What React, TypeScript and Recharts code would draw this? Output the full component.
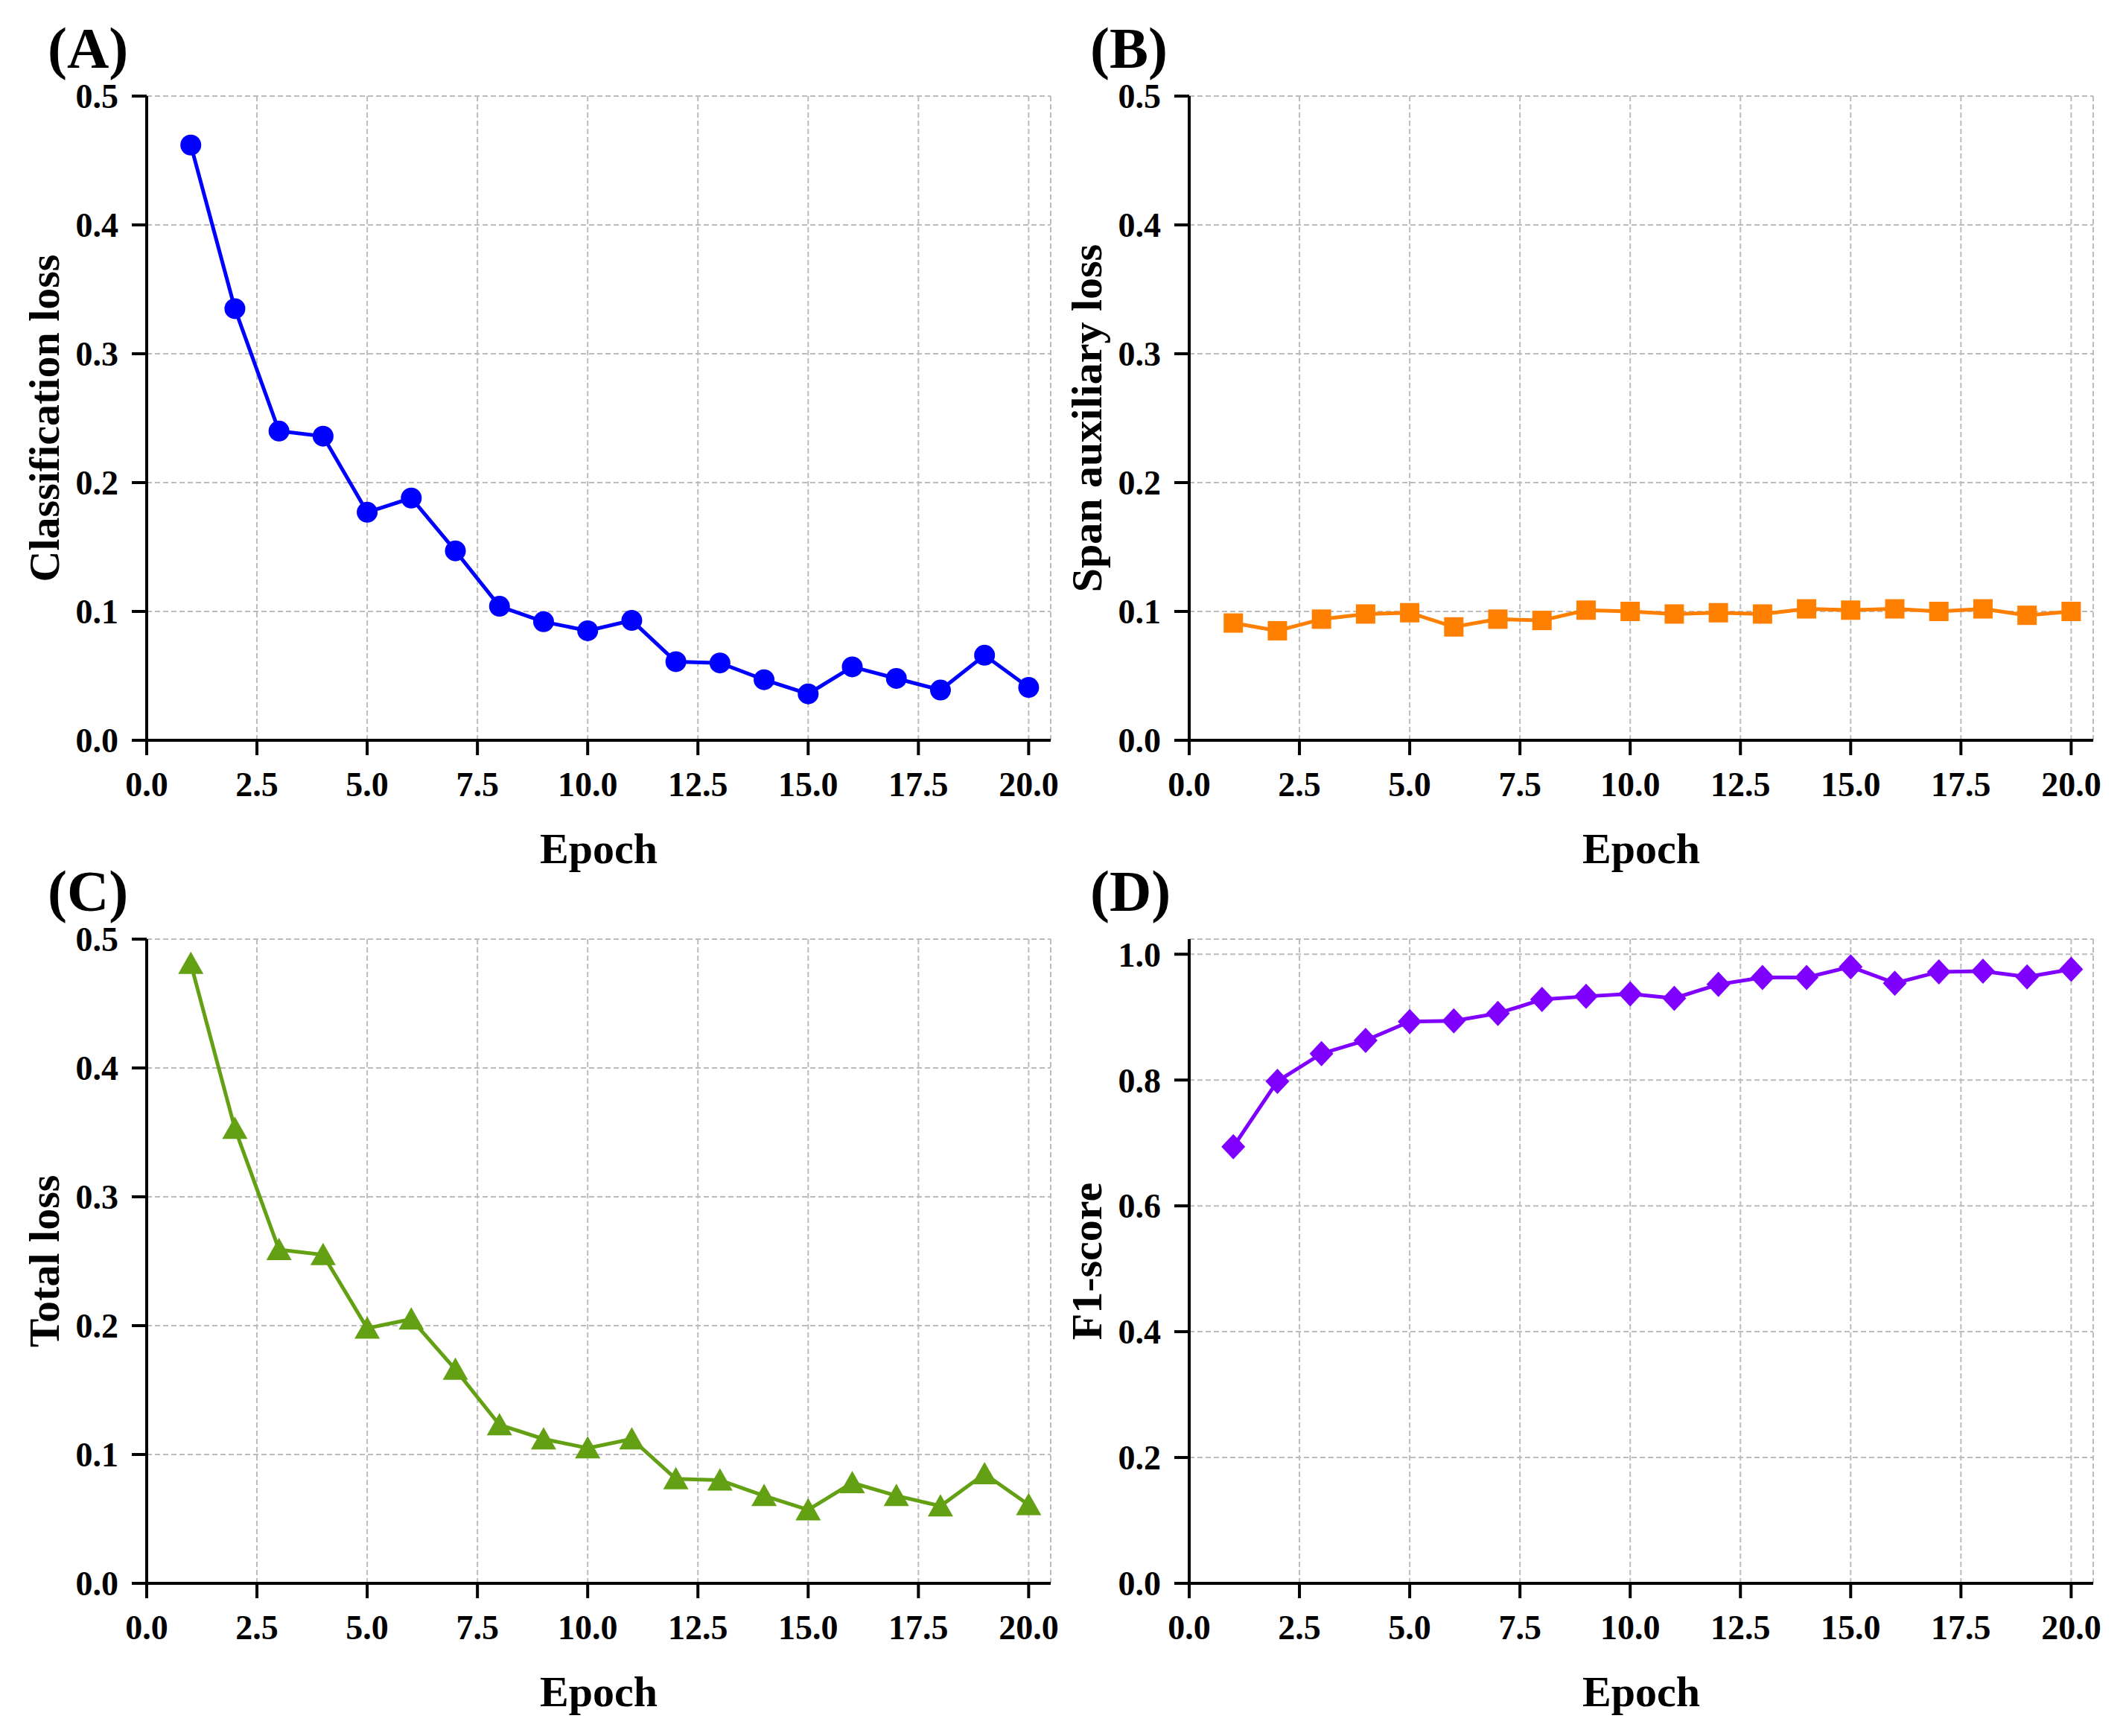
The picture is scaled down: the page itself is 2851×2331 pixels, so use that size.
import React from "react";
import { LineChart, Line, XAxis, YAxis, CartesianGrid } from "recharts";

// values (20 training epochs)
const epochs = [1, 2, 3, 4, 5, 6, 7, 8, 9, 10, 11, 12, 13, 14, 15, 16, 17, 18, 19, 20];
const classificationLoss = [
  0.462, 0.335, 0.24, 0.236, 0.177, 0.188, 0.147, 0.104, 0.092, 0.085,
  0.093, 0.061, 0.06, 0.047, 0.036, 0.057, 0.048, 0.039, 0.066, 0.041,
];
const spanAuxiliaryLoss = [
  0.091, 0.085, 0.094, 0.098, 0.099, 0.088, 0.094, 0.093, 0.101, 0.1,
  0.098, 0.099, 0.098, 0.102, 0.101, 0.102, 0.1, 0.102, 0.097, 0.1,
];
const totalLoss = [
  0.481, 0.353, 0.259, 0.255, 0.198, 0.205, 0.166, 0.123, 0.112, 0.105,
  0.112, 0.081, 0.08, 0.068, 0.057, 0.078, 0.068, 0.06, 0.085, 0.061,
];
const f1Score = [
  0.694, 0.798, 0.842, 0.863, 0.893, 0.894, 0.906, 0.928, 0.933, 0.937,
  0.93, 0.952, 0.963, 0.963, 0.98, 0.954, 0.972, 0.973, 0.964, 0.976,
];

const epochTicks = [0, 2.5, 5, 7.5, 10, 12.5, 15, 17.5, 20];
const lossTicks = [0, 0.1, 0.2, 0.3, 0.4, 0.5];
const f1Ticks = [0, 0.2, 0.4, 0.6, 0.8, 1.0];

const FONT = '"Liberation Serif", "Times New Roman", serif';
const W = 1425;
const H = 1190;

type Shape = "circle" | "square" | "triangle" | "diamond";

function drawMarker(shape: Shape, color: string) {
  return (props: any) => {
    const { cx, cy, index } = props;
    const key = `m-${index}`;
    if (cx == null || cy == null) return <g key={key} />;
    if (shape === "circle") return <circle key={key} cx={cx} cy={cy} r={14} fill={color} />;
    if (shape === "square")
      return <rect key={key} x={cx - 13} y={cy - 13} width={26} height={26} fill={color} />;
    if (shape === "triangle")
      return (
        <polygon
          key={key}
          points={`${cx},${cy - 16} ${cx - 17},${cy + 14} ${cx + 17},${cy + 14}`}
          fill={color}
        />
      );
    return (
      <polygon
        key={key}
        points={`${cx},${cy - 17} ${cx + 16},${cy} ${cx},${cy + 17} ${cx - 16},${cy}`}
        fill={color}
      />
    );
  };
}

interface PanelProps {
  left: number;
  top: number;
  letter: string;
  yLabel: string;
  values: number[];
  color: string;
  shape: Shape;
  yTicks: number[];
  yMax: number;
}

function Panel({ left, top, letter, yLabel, values, color, shape, yTicks, yMax }: PanelProps) {
  const data = epochs.map((epoch, i) => ({ epoch, value: values[i] }));
  const tickStyle = { fill: "#000", fontSize: 46, fontWeight: 700, fontFamily: FONT };
  const frame = { stroke: "#000", strokeWidth: 4 };

  return (
    <div style={{ position: "absolute", left, top, width: W, height: H }}>
      <LineChart width={W} height={H} data={data} margin={{ top: 129, right: 14, left: 0, bottom: 0 }}>
        <CartesianGrid
          xAxisId="b"
          yAxisId="l"
          stroke="#bcbcbc"
          strokeWidth={2}
          strokeDasharray="7 4"
        />
        <XAxis
          xAxisId="b"
          dataKey="epoch"
          type="number"
          domain={[0, 20.5]}
          ticks={epochTicks}
          allowDataOverflow
          height={H - 129 - 865}
          tick={tickStyle}
          tickFormatter={(v: number) => v.toFixed(1)}
          tickSize={20}
          tickMargin={22}
          tickLine={frame}
          axisLine={frame}
          label={{
            value: "Epoch",
            position: "insideTop",
            offset: 124,
            style: { fill: "#000", fontSize: 58, fontWeight: 700, fontFamily: FONT },
          }}
        />
        <XAxis
          xAxisId="t"
          orientation="top"
          dataKey="epoch"
          type="number"
          domain={[0, 20.5]}
          height={0}
          tick={false}
          tickLine={false}
          axisLine={frame}
        />
        <YAxis
          yAxisId="l"
          type="number"
          domain={[0, yMax]}
          ticks={yTicks}
          allowDataOverflow
          width={197}
          tick={tickStyle}
          tickFormatter={(v: number) => v.toFixed(1)}
          tickSize={20}
          tickMargin={18}
          tickLine={frame}
          axisLine={frame}
          label={{
            value: yLabel,
            angle: -90,
            position: "insideLeft",
            offset: 58,
            style: {
              textAnchor: "middle",
              fill: "#000",
              fontSize: 58,
              fontWeight: 700,
              fontFamily: FONT,
            },
          }}
        />
        <YAxis
          yAxisId="r"
          orientation="right"
          type="number"
          domain={[0, yMax]}
          width={0}
          tick={false}
          tickLine={false}
          axisLine={frame}
        />
        <Line
          xAxisId="b"
          yAxisId="l"
          type="linear"
          dataKey="value"
          stroke={color}
          strokeWidth={5}
          dot={drawMarker(shape, color)}
          activeDot={false}
          isAnimationActive={false}
        />
      </LineChart>
      <svg
        width={300}
        height={129}
        style={{ position: "absolute", left: 0, top: 0, pointerEvents: "none" }}
      >
        <text x={64} y={91} fontFamily={FONT} fontSize={78} fontWeight={700} fill="#000">
          {letter}
        </text>
      </svg>
    </div>
  );
}

export default function App() {
  return (
    <div
      style={{
        position: "absolute",
        left: 0,
        top: 0,
        width: 2851,
        height: 2331,
        background: "#fff",
        overflow: "hidden",
      }}
    >
      <Panel
        left={0}
        top={0}
        letter="(A)"
        yLabel="Classification loss"
        values={classificationLoss}
        color="#0000ff"
        shape="circle"
        yTicks={lossTicks}
        yMax={0.5}
      />
      <Panel
        left={1400}
        top={0}
        letter="(B)"
        yLabel="Span auxiliary loss"
        values={spanAuxiliaryLoss}
        color="#ff7f00"
        shape="square"
        yTicks={lossTicks}
        yMax={0.5}
      />
      <Panel
        left={0}
        top={1132}
        letter="(C)"
        yLabel="Total loss"
        values={totalLoss}
        color="#64a014"
        shape="triangle"
        yTicks={lossTicks}
        yMax={0.5}
      />
      <Panel
        left={1400}
        top={1132}
        letter="(D)"
        yLabel="F1-score"
        values={f1Score}
        color="#7f00ff"
        shape="diamond"
        yTicks={f1Ticks}
        yMax={1.024}
      />
    </div>
  );
}
